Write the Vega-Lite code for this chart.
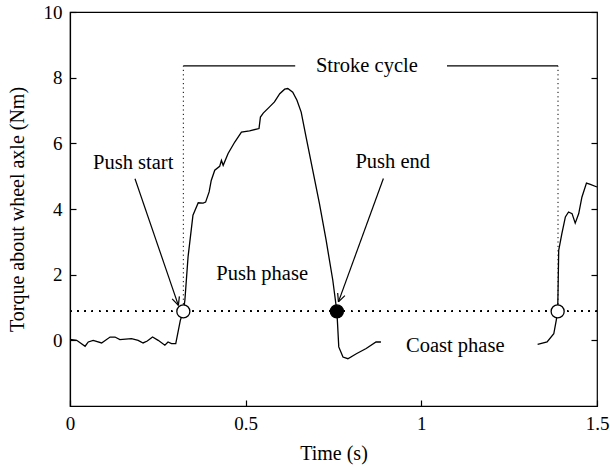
{
  "$schema": "https://vega.github.io/schema/vega-lite/v6.json",
  "width": 527,
  "height": 394,
  "autosize": {"type": "none"},
  "padding": {"left": 70, "top": 12, "right": 13, "bottom": 63},
  "background": "white",
  "config": {
    "view": {"stroke": "black", "strokeWidth": 1.2},
    "axis": {
      "labelFont": "Liberation Serif", "titleFont": "Liberation Serif",
      "labelFontSize": 19, "titleFontSize": 20, "titleFontWeight": "normal",
      "labelColor": "black", "titleColor": "black",
      "domainColor": "black", "tickColor": "black", "grid": false,
      "tickSize": -6, "tickWidth": 1.2, "domainWidth": 1.2
    },
    "text": {"font": "Liberation Serif", "fontSize": 20.5, "color": "black"}
  },
  "datasets": {
    "curve": [
      {"seg": 1, "t": 0, "v": 0.03}, {"seg": 1, "t": 0.019, "v": 0.0}, {"seg": 1, "t": 0.043, "v": -0.18},
      {"seg": 1, "t": 0.052, "v": -0.05}, {"seg": 1, "t": 0.066, "v": 0.0}, {"seg": 1, "t": 0.09, "v": -0.08},
      {"seg": 1, "t": 0.114, "v": 0.1}, {"seg": 1, "t": 0.128, "v": 0.1}, {"seg": 1, "t": 0.142, "v": 0.02},
      {"seg": 1, "t": 0.175, "v": 0.05}, {"seg": 1, "t": 0.194, "v": 0.0}, {"seg": 1, "t": 0.208, "v": -0.08},
      {"seg": 1, "t": 0.22, "v": -0.02}, {"seg": 1, "t": 0.235, "v": 0.1}, {"seg": 1, "t": 0.251, "v": 0.0},
      {"seg": 1, "t": 0.27, "v": -0.15}, {"seg": 1, "t": 0.279, "v": -0.05}, {"seg": 1, "t": 0.289, "v": -0.1},
      {"seg": 1, "t": 0.301, "v": -0.1}, {"seg": 1, "t": 0.314, "v": 0.61}, {"seg": 1, "t": 0.3226, "v": 0.88},
      {"seg": 1, "t": 0.327, "v": 1.22}, {"seg": 1, "t": 0.336, "v": 2.54}, {"seg": 1, "t": 0.346, "v": 3.45},
      {"seg": 1, "t": 0.35, "v": 3.81}, {"seg": 1, "t": 0.365, "v": 4.19}, {"seg": 1, "t": 0.379, "v": 4.18},
      {"seg": 1, "t": 0.386, "v": 4.21}, {"seg": 1, "t": 0.396, "v": 4.52}, {"seg": 1, "t": 0.402, "v": 4.87},
      {"seg": 1, "t": 0.412, "v": 5.18}, {"seg": 1, "t": 0.426, "v": 5.3}, {"seg": 1, "t": 0.431, "v": 5.48},
      {"seg": 1, "t": 0.436, "v": 5.33}, {"seg": 1, "t": 0.45, "v": 5.69}, {"seg": 1, "t": 0.469, "v": 6.04},
      {"seg": 1, "t": 0.488, "v": 6.34}, {"seg": 1, "t": 0.511, "v": 6.38}, {"seg": 1, "t": 0.538, "v": 6.45},
      {"seg": 1, "t": 0.542, "v": 6.8}, {"seg": 1, "t": 0.55, "v": 6.92}, {"seg": 1, "t": 0.568, "v": 7.11},
      {"seg": 1, "t": 0.582, "v": 7.26}, {"seg": 1, "t": 0.597, "v": 7.51}, {"seg": 1, "t": 0.611, "v": 7.65},
      {"seg": 1, "t": 0.62, "v": 7.67}, {"seg": 1, "t": 0.634, "v": 7.56}, {"seg": 1, "t": 0.646, "v": 7.31},
      {"seg": 1, "t": 0.658, "v": 6.95}, {"seg": 1, "t": 0.672, "v": 6.19}, {"seg": 1, "t": 0.691, "v": 5.18},
      {"seg": 1, "t": 0.71, "v": 4.16}, {"seg": 1, "t": 0.729, "v": 3.05}, {"seg": 1, "t": 0.748, "v": 1.83},
      {"seg": 1, "t": 0.7596, "v": 0.88}, {"seg": 1, "t": 0.762, "v": 0.41}, {"seg": 1, "t": 0.765, "v": -0.2},
      {"seg": 1, "t": 0.777, "v": -0.51}, {"seg": 1, "t": 0.791, "v": -0.56}, {"seg": 1, "t": 0.815, "v": -0.41},
      {"seg": 1, "t": 0.843, "v": -0.25}, {"seg": 1, "t": 0.871, "v": -0.05}, {"seg": 1, "t": 0.885, "v": -0.05},
      {"seg": 2, "t": 1.331, "v": -0.12}, {"seg": 2, "t": 1.358, "v": -0.05}, {"seg": 2, "t": 1.377, "v": 0.2},
      {"seg": 2, "t": 1.384, "v": 0.61}, {"seg": 2, "t": 1.388, "v": 0.89}, {"seg": 2, "t": 1.389, "v": 1.42},
      {"seg": 2, "t": 1.391, "v": 2.74}, {"seg": 2, "t": 1.4, "v": 3.25}, {"seg": 2, "t": 1.41, "v": 3.76},
      {"seg": 2, "t": 1.419, "v": 3.91}, {"seg": 2, "t": 1.429, "v": 3.86}, {"seg": 2, "t": 1.438, "v": 3.57},
      {"seg": 2, "t": 1.448, "v": 3.86}, {"seg": 2, "t": 1.457, "v": 4.36}, {"seg": 2, "t": 1.47, "v": 4.79},
      {"seg": 2, "t": 1.481, "v": 4.75}, {"seg": 2, "t": 1.5, "v": 4.67}
    ],
    "vdots": [
      {"t": 0.3226, "v": 1.1, "v2": 8.36},
      {"t": 1.389, "v": 1.1, "v2": 8.36}
    ],
    "cycle": [
      {"t": 0.3226, "t2": 0.641, "v": 8.36},
      {"t": 1.073, "t2": 1.389, "v": 8.36}
    ],
    "arrows": [
      {"t": 0.185, "v": 4.92, "t2": 0.3085, "v2": 1.066},
      {"t": 0.3113, "v": 1.337, "t2": 0.3085, "v2": 1.066},
      {"t": 0.2908, "v": 1.264, "t2": 0.3085, "v2": 1.066},
      {"t": 0.892, "v": 4.93, "t2": 0.764, "v2": 1.17},
      {"t": 0.7824, "v": 1.36, "t2": 0.764, "v2": 1.17},
      {"t": 0.7619, "v": 1.44, "t2": 0.764, "v2": 1.17}
    ],
    "events": [
      {"t": 0.3226, "v": 0.88, "kind": "open"},
      {"t": 0.7596, "v": 0.88, "kind": "filled"},
      {"t": 1.388, "v": 0.88, "kind": "open"}
    ],
    "labels": [
      {"t": 0.18, "v": 5.23, "label": "Push start"},
      {"t": 0.9185, "v": 5.26, "label": "Push end"},
      {"t": 0.547, "v": 1.85, "label": "Push phase"},
      {"t": 1.0966, "v": -0.36, "label": "Coast phase"},
      {"t": 0.845, "v": 8.17, "label": "Stroke cycle"}
    ]
  },
  "resolve": {"axis": {"x": "independent", "y": "independent"}},
  "layer": [
    {
      "data": {"name": "curve"},
      "mark": {"type": "line", "color": "black", "strokeWidth": 1.3},
      "encoding": {
        "x": {"field": "t", "type": "quantitative", "scale": {"domain": [0, 1.5], "nice": false, "zero": false},
              "axis": {"title": "Time (s)", "values": [0, 0.5, 1, 1.5], "format": "~g", "labelPadding": 14, "titlePadding": 10, "labelFlush": false}},
        "y": {"field": "v", "type": "quantitative", "scale": {"domain": [-2, 10], "nice": false, "zero": false},
              "axis": {"title": "Torque about wheel axle (Nm)", "values": [0, 2, 4, 6, 8, 10], "labelPadding": 14, "titlePadding": 16, "labelFlush": false}},
        "detail": {"field": "seg", "type": "nominal"},
        "order": {"field": "t", "type": "quantitative"}
      }
    },
    {
      "data": {"name": "curve"},
      "mark": {"type": "rule", "color": "black", "strokeWidth": 1.0, "strokeDash": [1.2, 6]},
      "encoding": {
        "y": {"datum": 0.88, "type": "quantitative", "scale": {"domain": [-2, 10], "nice": false, "zero": false},
              "axis": {"orient": "right", "title": null, "labels": false, "values": [0, 2, 4, 6, 8, 10], "domain": false}}
      }
    },
    {
      "data": {"name": "vdots"},
      "mark": {"type": "rule", "color": "black", "strokeWidth": 1.0, "strokeDash": [1.2, 3.2]},
      "encoding": {
        "x": {"field": "t", "type": "quantitative", "scale": {"domain": [0, 1.5], "nice": false, "zero": false}, "axis": null},
        "y": {"field": "v", "type": "quantitative", "scale": {"domain": [-2, 10], "nice": false, "zero": false}, "axis": null},
        "y2": {"field": "v2"}
      }
    },
    {
      "data": {"name": "cycle"},
      "mark": {"type": "rule", "color": "black", "strokeWidth": 1.3},
      "encoding": {
        "x": {"field": "t", "type": "quantitative", "scale": {"domain": [0, 1.5], "nice": false, "zero": false}, "axis": null},
        "x2": {"field": "t2"},
        "y": {"field": "v", "type": "quantitative", "scale": {"domain": [-2, 10], "nice": false, "zero": false}, "axis": null}
      }
    },
    {
      "data": {"name": "arrows"},
      "mark": {"type": "rule", "color": "black", "strokeWidth": 1.2},
      "encoding": {
        "x": {"field": "t", "type": "quantitative", "scale": {"domain": [0, 1.5], "nice": false, "zero": false}, "axis": null},
        "x2": {"field": "t2"},
        "y": {"field": "v", "type": "quantitative", "scale": {"domain": [-2, 10], "nice": false, "zero": false}, "axis": null},
        "y2": {"field": "v2"}
      }
    },
    {
      "data": {"name": "events"},
      "mark": {"type": "point", "shape": "circle", "size": 170, "stroke": "black", "strokeWidth": 1.3, "opacity": 1, "filled": true},
      "encoding": {
        "x": {"field": "t", "type": "quantitative", "scale": {"domain": [0, 1.5], "nice": false, "zero": false}, "axis": null},
        "y": {"field": "v", "type": "quantitative", "scale": {"domain": [-2, 10], "nice": false, "zero": false}, "axis": null},
        "fill": {"field": "kind", "type": "nominal", "scale": {"domain": ["open", "filled"], "range": ["white", "black"]}, "legend": null}
      }
    },
    {
      "data": {"name": "labels"},
      "mark": {"type": "text", "align": "center", "baseline": "alphabetic"},
      "encoding": {
        "x": {"field": "t", "type": "quantitative", "scale": {"domain": [0, 1.5], "nice": false, "zero": false}, "axis": null},
        "y": {"field": "v", "type": "quantitative", "scale": {"domain": [-2, 10], "nice": false, "zero": false}, "axis": null},
        "text": {"field": "label"}
      }
    }
  ]
}
